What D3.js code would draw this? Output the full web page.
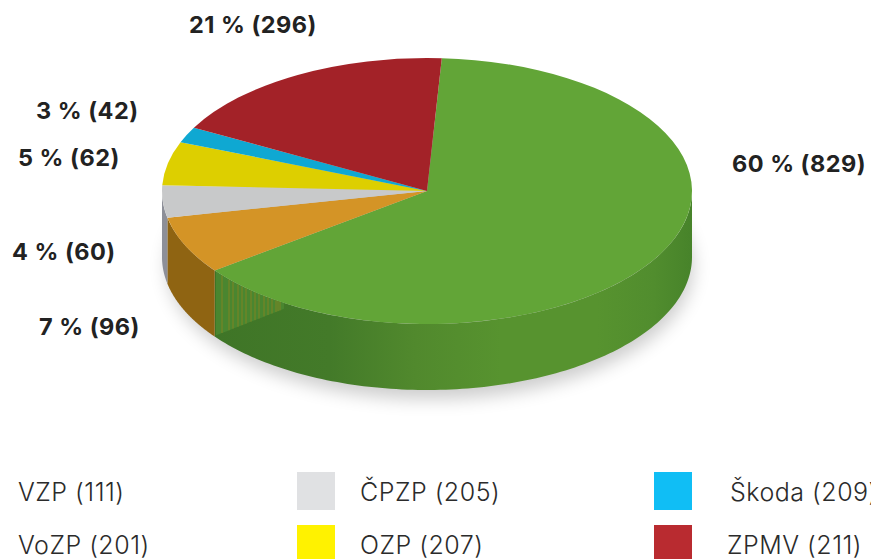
<!DOCTYPE html>
<html><head><meta charset="utf-8"><script src="https://cdn.jsdelivr.net/npm/d3@7"></script>
<style>html,body{margin:0;padding:0;background:#fff;overflow:hidden}svg{display:block}</style></head>
<body><svg id="c" width="871" height="559"></svg>
<script>
// Slice order clockwise from the top of the disc, shares as drawn in the picture (%)
const sliceNames = ["VZP","VoZP","ČPZP","OZP","Škoda","ZPMV"];
const drawnShares = [63.9,7.0,3.9,5.3,1.9,18.0];
const topColors = ["#62a537","#d49426","#c8c9ca","#ddcf00","#0fa8d2","#a32228"];
const sideColors = ["#4f8a2d","#8f6412","#8d8f98","#a89c00","#0b7fa0","#7a1a1e"];
const sliceLabels = ["60 % (829)","7 % (96)","4 % (60)","5 % (62)","3 % (42)","21 % (296)"];
const labelX = [732,39,12,18,36,189];
const labelY = [172,335,260,166,119,33];
const legendNames = ["VZP (111)","VoZP (201)","ČPZP (205)","OZP (207)","Škoda (209)","ZPMV (211)"];
const legendColors = [null,null,"#e0e1e3","#fff200","#10bef5","#b92b30"];
const legendSwatchX = [null,null,297,297,654,654];
const legendTextX = [18,18,360,360,730,727];
const legendRowY = [472,525,472,525,472,525];
const sideStops = [[0,"#3f7527"],[0.24,"#437a29"],[0.42,"#51892d"],[0.6,"#57932f"],[0.8,"#57932f"],[0.92,"#518d2e"],[1,"#47832a"]];
const streakX = [222,229,233,238,242,246,251,255,259,264,268,272,276,278,280];

const cx=427, cy=191, rx=265, ry=133, depth=66, startDeg=3.2;
const svg=d3.select("#c");
const defs=svg.append("defs");
defs.append("filter").attr("id","blur").attr("x","-20%").attr("y","-20%").attr("width","140%").attr("height","140%")
  .append("feGaussianBlur").attr("stdDeviation",9);
const grad=defs.append("linearGradient").attr("id","greenSide")
  .attr("gradientUnits","userSpaceOnUse").attr("x1",215).attr("x2",692).attr("y1",0).attr("y2",0);
sideStops.forEach(s=>grad.append("stop").attr("offset",s[0]).attr("stop-color",s[1]));

const start=startDeg*Math.PI/180;
const pie=d3.pie().sort(null).startAngle(start).endAngle(start+2*Math.PI);
const arcs=pie(drawnShares);
const px=a=>cx+rx*Math.sin(a), py=a=>cy-ry*Math.cos(a);
const rimY=x=>cy+ry*Math.sqrt(1-Math.pow((x-cx)/rx,2));

// soft shadow
svg.append("ellipse").attr("cx",cx+3).attr("cy",cy+depth+9).attr("rx",rx-2).attr("ry",ry)
  .attr("fill","#000").attr("opacity",0.2).attr("filter","url(#blur)");

// side wall: only the front half (angles 90..270 deg) is visible
const sideLine=d3.line();
const lo=Math.PI/2, hi=3*Math.PI/2;
function wall(a0,a1){
  const s=Math.max(a0,lo), e=Math.min(a1,hi);
  if(e<=s) return null;
  const ts=d3.range(0,121).map(i=>s+(e-s)*i/120);
  const top=ts.map(t=>[px(t),py(t)]);
  const bot=ts.slice().reverse().map(t=>[px(t),py(t)+depth]);
  return sideLine(top.concat(bot))+"Z";
}
svg.append("g").selectAll("path").data(arcs).join("path")
  .attr("d",d=>wall(d.startAngle,d.endAngle))
  .attr("fill",(d,i)=>i===0?"url(#greenSide)":sideColors[i]);

// streaked wedge on the green wall next to the orange slice
const streakEnd=x=>333-(x-222)*0.39;
const wedgeX=d3.range(216,286,2);
svg.append("path").attr("fill","#4a8630")
  .attr("d",sideLine(wedgeX.map(x=>[x,rimY(x)]).concat(wedgeX.slice().reverse().map(x=>[x,Math.max(rimY(x),streakEnd(x))])))+"Z");
svg.append("g").selectAll("line").data(streakX).join("line")
  .attr("x1",d=>d).attr("x2",d=>d)
  .attr("y1",d=>rimY(d)).attr("y2",d=>streakEnd(d))
  .attr("stroke","#8d8420").attr("stroke-width",1).attr("opacity",0.8);

// top face
const arc=d3.arc().innerRadius(0).outerRadius(rx);
svg.append("g").attr("transform",`translate(${cx},${cy}) scale(1,${ry/rx})`)
  .selectAll("path").data(arcs).join("path")
  .attr("d",arc).attr("fill",(d,i)=>topColors[i]);

// labels
svg.append("g").selectAll("text").data(sliceLabels).join("text")
  .attr("x",(d,i)=>labelX[i]).attr("y",(d,i)=>labelY[i]).text(d=>d)
  .attr("font-family","Inter, 'Open Sans', sans-serif").attr("font-weight",700)
  .attr("font-size",23.5).attr("letter-spacing",0.5).attr("fill","#222");

// legend
svg.append("g").selectAll("rect").data(legendColors.map((c,i)=>({c,i})).filter(d=>d.c)).join("rect")
  .attr("x",d=>legendSwatchX[d.i]).attr("y",d=>legendRowY[d.i]).attr("width",38).attr("height",38)
  .attr("fill",d=>d.c);
svg.append("g").selectAll("text").data(legendNames).join("text")
  .attr("x",(d,i)=>legendTextX[i]).attr("y",(d,i)=>legendRowY[i]+29).text(d=>d)
  .attr("font-family","Inter, 'Open Sans', sans-serif").attr("font-weight",300)
  .attr("font-size",25).attr("letter-spacing",0.5).attr("fill","#2b2b2b");
</script></body></html>
